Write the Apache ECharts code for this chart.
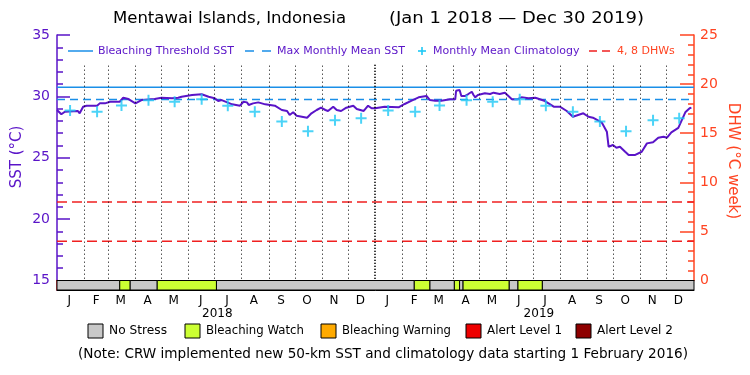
<!DOCTYPE html>
<html>
<head>
<meta charset="utf-8">
<script src="https://cdn.jsdelivr.net/npm/echarts@6/dist/echarts.min.js"></script>
<style>
html, body { margin: 0; padding: 0; background: #fff; }
#chart { width: 750px; height: 375px; }
</style>
</head>
<body>
<div id="chart"></div>
<script>
// days counted from Jan 1 2018
const monthStart = [0, 31, 59, 90, 120, 151, 181, 212, 243, 273, 304, 334,
    365, 396, 424, 455, 485, 516, 546, 577, 608, 638, 669, 699];
const monthLetters = ['J', 'F', 'M', 'A', 'M', 'J', 'J', 'A', 'S', 'O', 'N', 'D'];
const years = ['2018', '2019'];
const yearMid = [184, 553];

// daily SST
const sstDay = [0, 5, 9, 24, 26, 30, 34, 46, 49, 55, 61, 72, 76, 82, 90, 97, 112, 120, 132, 139,
    143, 155, 166, 174, 181, 185, 189, 201, 210, 214, 218, 220, 225, 231, 239, 250, 258, 264, 267, 271,
    275, 281, 287, 292, 298, 303, 308, 311, 317, 321, 326, 332, 340, 344, 352, 357, 361, 365, 376, 392,
    399, 407, 415, 424, 428, 434, 441, 451, 457, 458, 462, 464, 468, 472, 476, 478, 480, 483, 491, 497,
    501, 508, 514, 522, 528, 533, 541, 549, 560, 570, 577, 585, 592, 598, 604, 610, 615, 625, 631, 633,
    638, 642, 646, 652, 656, 663, 671, 677, 684, 690, 696, 700, 705, 713, 717, 721, 726, 728];
const sstValue = [28.89, 28.54, 28.75, 28.81, 28.62, 29.16, 29.24, 29.24, 29.43, 29.43,
    29.56, 29.56, 29.89, 29.78, 29.43, 29.70, 29.78, 29.89, 29.84, 29.89,
    29.97, 30.11, 30.17, 29.97, 29.84, 29.62, 29.70, 29.35, 29.24, 29.56,
    29.51, 29.30, 29.43, 29.51, 29.35, 29.24, 28.89, 28.81, 28.48, 28.70,
    28.42, 28.34, 28.26, 28.62, 28.89, 29.08, 28.89, 28.81, 29.16, 28.89,
    28.81, 29.08, 29.24, 28.97, 28.81, 29.24, 29.03, 29.03, 29.16, 29.11,
    29.38, 29.65, 29.92, 30.03, 29.70, 29.65, 29.65, 29.76, 29.76, 30.46,
    30.52, 30.03, 30.03, 30.19, 30.38, 30.11, 29.92, 30.11, 30.25, 30.19,
    30.30, 30.19, 30.30, 29.76, 29.76, 29.92, 29.84, 29.89, 29.62, 29.16,
    29.16, 28.81, 28.34, 28.48, 28.62, 28.34, 28.26, 27.89, 27.12, 25.90,
    26.04, 25.82, 25.90, 25.49, 25.22, 25.22, 25.49, 26.17, 26.26, 26.63,
    26.71, 26.63, 27.07, 27.44, 28.07, 28.70, 29.03, 29.08];

const climValue = [28.85, 28.75, 29.25, 29.68, 29.56, 29.76, 29.24, 28.75, 27.96, 27.15, 28.05, 28.21];
const mmm = 29.75;
const threshold = 30.75;
const dhwLevels = [4, 8];

// stress level bar: start day, end day, level
const statusStart = [0, 72, 84, 115, 183, 410, 428, 456, 462, 466, 519, 529, 557];
const statusEnd = [72, 84, 115, 183, 410, 428, 456, 462, 466, 519, 529, 557, 731];
const statusLevel = [0, 1, 0, 1, 0, 1, 0, 1, 0, 1, 0, 1, 0];
const statusNames = ['No Stress', 'Bleaching Watch', 'Bleaching Warning', 'Alert Level 1', 'Alert Level 2'];
const statusColors = ['#c8c8c8', '#ccff33', '#ffaa00', '#ee0000', '#8e0000'];

const purple = '#5a14c8';
const blue = '#1a8fe8';
const cyan = '#1ec8f5';
const red = '#f02020';
const orange = '#ff4422';
const FONT = '"DejaVu Sans", sans-serif';

const dayMax = 731;
const monthMid = monthStart.map(d => d + 14);
const climDay = monthStart.map(d => d + 15);

const chart = echarts.init(document.getElementById('chart'));

// stretch a text horizontally so it spans the same width as in the source image
const measureCtx = document.createElement('canvas').getContext('2d');
function fitScale(text, font, width) {
    measureCtx.font = font;
    return width / measureCtx.measureText(text).width;
}

const dottedLines = monthStart.slice(1).map(d => [
    {
        coord: [d, 15.15],
        lineStyle: d === 365 ? { color: '#000', width: 2, type: [1, 2] } : { color: '#000', width: 1, type: [1, 3] }
    },
    { coord: [d, 32.7] }
]);

const crossPath = 'path://M4.1,0h1.8v10h-1.8z M0,4.1h10v1.8h-10z';

const titleFont = '16px ' + FONT;
const title1 = 'Mentawai Islands, Indonesia';
const title2 = '(Jan 1 2018 \u2014 Dec 30 2019)';
const noteFont = '13.5px ' + FONT;
const note = '(Note: CRW implemented new 50-km SST and climatology data starting 1 February 2016)';

const graphics = [
    { type: 'text', x: 113, y: 19, scaleX: fitScale(title1, titleFont, 233), style: { text: title1, font: titleFont, fill: '#000', verticalAlign: 'middle' } },
    { type: 'text', x: 389, y: 19, scaleX: fitScale(title2, titleFont, 255), style: { text: title2, font: titleFont, fill: '#000', verticalAlign: 'middle' } },
    { type: 'text', x: 17, y: 157, rotation: Math.PI / 2, style: { text: 'SST (\u00b0C)', font: '15px ' + FONT, fill: purple, align: 'center', verticalAlign: 'middle' } },
    { type: 'text', x: 733, y: 161, rotation: -Math.PI / 2, style: { text: 'DHW (\u00b0C week)', font: '15px ' + FONT, fill: orange, align: 'center', verticalAlign: 'middle' } },

    // legend inside the plot
    { type: 'line', shape: { x1: 68, y1: 51, x2: 93, y2: 51 }, style: { stroke: blue, lineWidth: 1.5 } },
    { type: 'text', x: 98, y: 51, style: { text: 'Bleaching Threshold SST', font: '11px ' + FONT, fill: purple, verticalAlign: 'middle' } },
    { type: 'line', shape: { x1: 245, y1: 51, x2: 272, y2: 51 }, style: { stroke: blue, lineWidth: 1.5, lineDash: [9, 8] } },
    { type: 'text', x: 277, y: 51, style: { text: 'Max Monthly Mean SST', font: '11px ' + FONT, fill: purple, verticalAlign: 'middle' } },
    { type: 'line', shape: { x1: 418, y1: 51, x2: 426, y2: 51 }, style: { stroke: cyan, lineWidth: 1.6 } },
    { type: 'line', shape: { x1: 422, y1: 47, x2: 422, y2: 55 }, style: { stroke: cyan, lineWidth: 1.6 } },
    { type: 'text', x: 433, y: 51, style: { text: 'Monthly Mean Climatology', font: '11px ' + FONT, fill: purple, verticalAlign: 'middle' } },
    { type: 'line', shape: { x1: 589, y1: 51, x2: 610, y2: 51 }, style: { stroke: red, lineWidth: 1.5, lineDash: [8, 5] } },
    { type: 'text', x: 617, y: 51, style: { text: '4, 8 DHWs', font: '11px ' + FONT, fill: orange, verticalAlign: 'middle' } },

    { type: 'text', x: 78, y: 354, scaleX: fitScale(note, noteFont, 610), style: { text: note, font: noteFont, fill: '#000', verticalAlign: 'middle' } }
];
// stress legend below the plot
const boxX = [88, 185, 321, 466, 576];
const legendTextWidth = [58, 98, 109, 75, 76];
const legendFont = '12.5px ' + FONT;
statusNames.forEach((name, i) => {
    graphics.push({ type: 'rect', shape: { x: boxX[i], y: 324, width: 15, height: 14 }, style: { fill: statusColors[i], stroke: '#000', lineWidth: 1 } });
    graphics.push({
        type: 'text', x: boxX[i] + 21, y: 331, scaleX: fitScale(name, legendFont, legendTextWidth[i]),
        style: { text: name, font: legendFont, fill: '#000', verticalAlign: 'middle' }
    });
});

const noSplit = { show: false };

chart.setOption({
    animation: false,
    backgroundColor: '#fff',
    grid: [
        { left: 57, right: 56, top: 35, height: 245.5 },
        { left: 57, right: 56, top: 280.5, height: 9.5 }
    ],
    xAxis: [
        {
            gridIndex: 0, type: 'value', min: 0, max: dayMax, position: 'top',
            axisLine: { show: true, lineStyle: { color: '#000', width: 1 } },
            axisTick: { show: false }, axisLabel: { show: false }, splitLine: noSplit
        },
        {
            gridIndex: 1, type: 'value', min: 0, max: dayMax, position: 'bottom',
            axisLine: { show: true, lineStyle: { color: '#000', width: 1 } },
            axisTick: { show: false }, splitLine: noSplit,
            axisLabel: {
                customValues: monthMid, margin: 5, color: '#000', fontSize: 12, fontFamily: FONT,
                formatter: v => monthLetters[monthMid.indexOf(v) % 12]
            }
        },
        {
            gridIndex: 1, type: 'value', min: 0, max: dayMax, position: 'bottom', offset: 14,
            axisLine: { show: false }, axisTick: { show: false }, splitLine: noSplit,
            axisLabel: {
                customValues: yearMid, margin: 4, color: '#000', fontSize: 12, fontFamily: FONT,
                formatter: v => years[yearMid.indexOf(v)]
            }
        }
    ],
    yAxis: [
        {
            gridIndex: 0, type: 'value', min: 15, max: 35, interval: 5, position: 'left',
            axisLine: { show: true, lineStyle: { color: purple, width: 1.5 } },
            axisTick: { show: true, inside: true, length: 13, lineStyle: { color: purple, width: 1.5 } },
            minorTick: { show: true, splitNumber: 5, length: 6, lineStyle: { color: purple, width: 1.5 } },
            axisLabel: { color: purple, fontSize: 14, fontFamily: FONT, margin: 7 },
            splitLine: noSplit
        },
        {
            gridIndex: 0, type: 'value', min: 0, max: 25, interval: 5, position: 'right',
            axisLine: { show: true, lineStyle: { color: orange, width: 1.5 } },
            axisTick: { show: true, inside: true, length: 14, lineStyle: { color: orange, width: 1.5 } },
            minorTick: { show: true, splitNumber: 5, length: 6, lineStyle: { color: orange, width: 1.5 } },
            axisLabel: { color: orange, fontSize: 14, fontFamily: FONT, margin: 6 },
            splitLine: noSplit
        },
        {
            gridIndex: 1, type: 'value', min: 0, max: 1, position: 'left',
            axisLine: { show: true, lineStyle: { color: purple, width: 1.5 } },
            axisTick: { show: false }, axisLabel: { show: false }, splitLine: noSplit
        },
        {
            gridIndex: 1, type: 'value', min: 0, max: 1, position: 'right',
            axisLine: { show: true, lineStyle: { color: orange, width: 1.5 } },
            axisTick: { show: false }, axisLabel: { show: false }, splitLine: noSplit
        }
    ],
    graphic: graphics,
    series: [
        {
            name: 'Bleaching Threshold SST', type: 'line', xAxisIndex: 0, yAxisIndex: 0,
            data: [[0, threshold], [dayMax, threshold]],
            showSymbol: false, lineStyle: { color: blue, width: 1.5 }, z: 2,
            markLine: { silent: true, symbol: 'none', label: { show: false }, data: dottedLines }
        },
        {
            name: 'Max Monthly Mean SST', type: 'line', xAxisIndex: 0, yAxisIndex: 0,
            data: [[0, mmm], [dayMax, mmm]],
            showSymbol: false, lineStyle: { color: blue, width: 1.5, type: [8, 5] }, z: 2
        },
        ...dhwLevels.map(v => ({
            name: v + ' DHW', type: 'line', xAxisIndex: 0, yAxisIndex: 1,
            data: [[0, v], [dayMax, v]],
            showSymbol: false, lineStyle: { color: red, width: 1.5, type: [10, 5] }, z: 2
        })),
        {
            name: 'SST', type: 'line', xAxisIndex: 0, yAxisIndex: 0,
            data: sstDay.map((d, i) => [d, sstValue[i]]),
            showSymbol: false, lineStyle: { color: purple, width: 2 }, z: 4
        },
        {
            name: 'Monthly Mean Climatology', type: 'scatter', xAxisIndex: 0, yAxisIndex: 0,
            data: climDay.map((d, i) => [d, climValue[i % 12]]),
            symbol: crossPath, symbolSize: 11, itemStyle: { color: cyan }, z: 5
        },
        {
            name: 'Stress', type: 'custom', xAxisIndex: 1, yAxisIndex: 2,
            data: statusStart.map((s, i) => [s, statusEnd[i], statusLevel[i]]),
            encode: { x: [0, 1] },
            renderItem: function (params, api) {
                const p0 = api.coord([api.value(0), 1]);
                const p1 = api.coord([api.value(1), 0]);
                return {
                    type: 'rect',
                    shape: { x: p0[0], y: p0[1], width: p1[0] - p0[0], height: p1[1] - p0[1] },
                    style: { fill: statusColors[api.value(2)], stroke: '#000', lineWidth: 1 }
                };
            }
        }
    ]
});
</script>
</body>
</html>
